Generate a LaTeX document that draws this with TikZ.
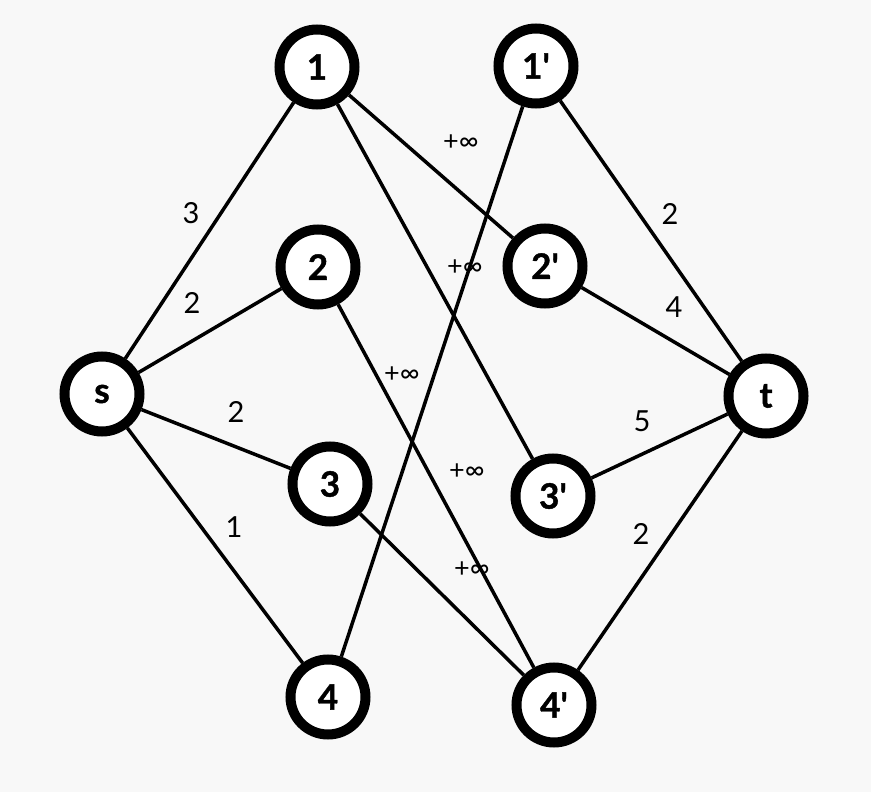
\documentclass[tikz,border=0pt]{standalone}
\usepackage{fontspec}
\setmainfont{Lato}
\newfontfamily\heavyfont[FakeBold=1.2]{Lato}
\begin{document}
\begin{tikzpicture}[x=1pt,y=-1pt,
  vtx/.style={circle,draw=black,line width=10pt,fill=white,minimum size=75pt,inner sep=0pt,font=\fontsize{35}{38}\heavyfont\bfseries},
  edge/.style={line width=3.5pt,black},
  wlab/.style={font=\fontsize{29}{31}\selectfont,inner sep=0pt},
  ilab/.style={font=\fontsize{27}{29}\selectfont,inner sep=0pt}]
\fill[fill={rgb,255:red,248;green,248;blue,248}] (0,0) rectangle (871,792);
\useasboundingbox (0,0) rectangle (871,792);
% positions
\coordinate (ps) at (102,394);
\coordinate (p1) at (317,67);
\coordinate (p2) at (318,267);
\coordinate (p3) at (330,484);
\coordinate (p4) at (328,697);
\coordinate (q1) at (536,66);
\coordinate (q2) at (545,266);
\coordinate (q3) at (553,496);
\coordinate (q4) at (554,705);
\coordinate (pt) at (766,396);
% nodes
\node[vtx] (s) at (ps) {s};
\node[vtx] (n1) at (p1) {1};
\node[vtx] (n2) at (p2) {2};
\node[vtx] (n3) at (p3) {3};
\node[vtx] (n4) at (p4) {4};
\node[vtx] (m1) at (q1) {1\textquotesingle};
\node[vtx] (m2) at (q2) {2\textquotesingle};
\node[vtx] (m3) at (q3) {3\textquotesingle};
\node[vtx] (m4) at (q4) {4\textquotesingle};
\node[vtx] (t) at (pt) {t};
% edges
\draw[edge] (s) -- (n1);
\draw[edge] (s) -- (n2);
\draw[edge] (s) -- (n3);
\draw[edge] (s) -- (n4);
\draw[edge] (n1) -- (m2);
\draw[edge] (n1) -- (m3);
\draw[edge] (n2) -- (m4);
\draw[edge] (n3) -- (m4);
\draw[edge] (n4) -- (m1);
\draw[edge] (m1) -- (t);
\draw[edge] (m2) -- (t);
\draw[edge] (m3) -- (t);
\draw[edge] (m4) -- (t);
% weight labels
\node[wlab] (w1) at (191,213) {3};
\node[wlab] (w2) at (192,303) {2};
\node[wlab] (w3) at (236,412) {2};
\node[wlab] (w4) at (234,527) {1};
\node[wlab] (w5) at (670,214) {2};
\node[wlab] (w6) at (674,307) {4};
\node[wlab] (w7) at (642,421) {5};
\node[wlab] (w8) at (641,534) {2};
\node[ilab] (i1) at (461,143) {+∞};
\node[ilab] (i2) at (465,268) {+∞};
\node[ilab] (i3) at (402,375) {+∞};
\node[ilab] (i4) at (467,472) {+∞};
\node[ilab] (i5) at (472,570) {+∞};
\end{tikzpicture}
\end{document}
